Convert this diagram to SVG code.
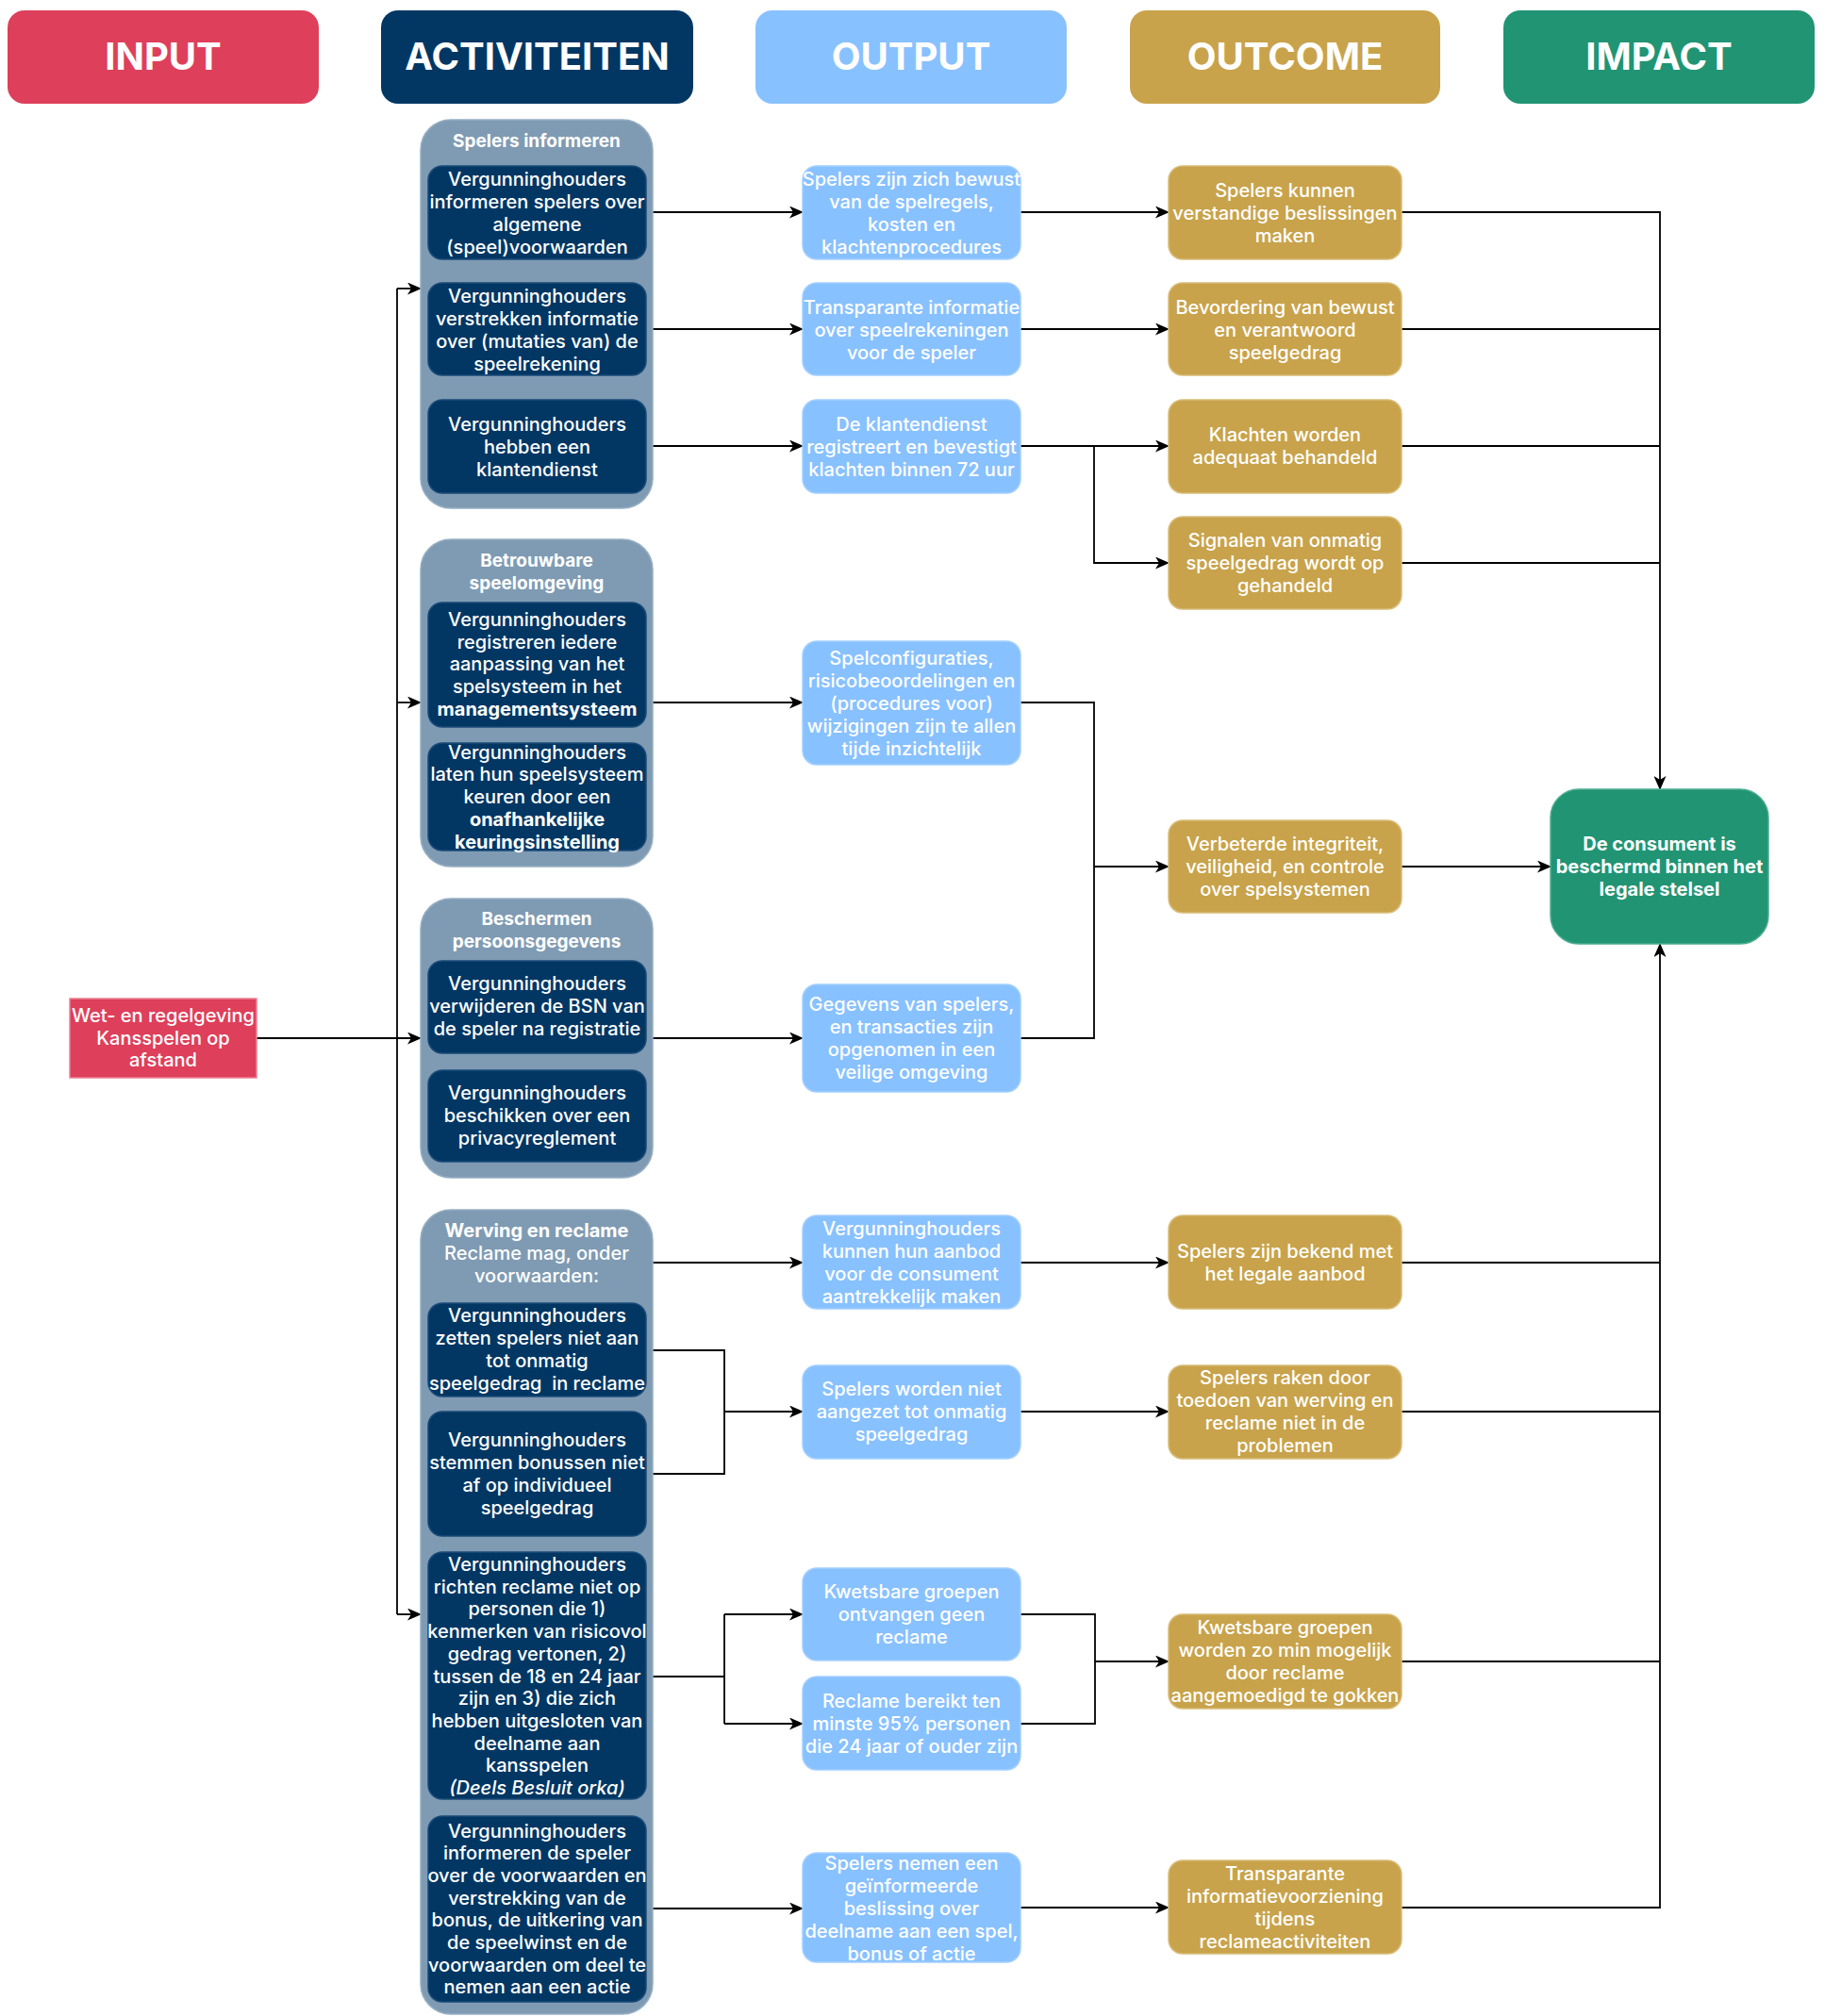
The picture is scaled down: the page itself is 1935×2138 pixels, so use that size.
<svg xmlns="http://www.w3.org/2000/svg" width="1935" height="2138" viewBox="0 0 1935 2138">
<style>
.bg{fill:#ffffff}
.hdr{font-family:Inter,"Liberation Sans",Arial,sans-serif;font-size:40px;font-weight:700;fill:#ffffff;text-anchor:middle}
.t{font-family:Inter,"Liberation Sans",Arial,sans-serif;font-size:20px;font-weight:500;fill:#ffffff;text-anchor:middle}
.gt{font-family:Inter,"Liberation Sans",Arial,sans-serif;font-size:19px;font-weight:700;fill:#ffffff;text-anchor:middle}
.b{font-weight:700}
.i{font-style:italic}
.red{fill:#DE3F5B}
.navy{fill:#023764;stroke:#1B4B78;stroke-width:1.5}
.blue{fill:#88C1FF;stroke:#A3CFFF;stroke-width:1.5}
.gold{fill:#C8A34B;stroke:#D8BC78;stroke-width:1.5}
.green{fill:#219474;stroke:#4DAE91;stroke-width:1.5}
.grp{fill:#7F9BB3;stroke:#95AEC3;stroke-width:1.5}
.c{fill:none;stroke:#000000;stroke-width:1.8}
.a{marker-end:url(#arr)}
</style>
<defs>
<marker id="arr" markerUnits="userSpaceOnUse" markerWidth="15" markerHeight="13" refX="14" refY="6.5" orient="auto">
<path d="M0,0 L15,6.5 L0,13 L4,6.5 Z" fill="#000000"/>
</marker>
</defs>
<rect class="bg" x="0" y="0" width="1935" height="2138"/>

<g id="headers">
<g id="hdr-input"><rect class="red" x="8" y="11" width="330" height="99" rx="18"/><text class="hdr" x="173" y="74">INPUT</text></g>
<g id="hdr-activiteiten"><rect fill="#023764" x="404" y="11" width="331" height="99" rx="18"/><text class="hdr" x="569.5" y="74">ACTIVITEITEN</text></g>
<g id="hdr-output"><rect fill="#88C1FF" x="801" y="11" width="330" height="99" rx="18"/><text class="hdr" x="966" y="74">OUTPUT</text></g>
<g id="hdr-outcome"><rect fill="#C8A34B" x="1198" y="11" width="329" height="99" rx="18"/><text class="hdr" x="1362.5" y="74">OUTCOME</text></g>
<g id="hdr-impact"><rect fill="#219474" x="1594" y="11" width="330" height="99" rx="18"/><text class="hdr" x="1759" y="74">IMPACT</text></g>
</g>

<g id="connectors">
<path class="c" d="M421,306 V1712"/>
<path class="c a" d="M421,306 H446"/>
<path class="c a" d="M421,745 H446"/>
<path class="c a" d="M421,1712 H446"/>
<path class="c a" d="M272,1101 H446"/>

<path class="c a" d="M685,225 H851"/>
<path class="c a" d="M685,349 H851"/>
<path class="c a" d="M685,473 H851"/>
<path class="c a" d="M692,745 H851"/>
<path class="c a" d="M692,1101 H851"/>
<path class="c a" d="M692,1339 H851"/>
<path class="c" d="M685,1432 H768 V1563 H685"/>
<path class="c a" d="M768,1497 H851"/>
<path class="c" d="M685,1778 H768"/>
<path class="c" d="M768,1712 V1828"/>
<path class="c a" d="M768,1712 H851"/>
<path class="c a" d="M768,1828 H851"/>
<path class="c a" d="M685,2024 H851"/>

<path class="c a" d="M1082,225 H1239"/>
<path class="c a" d="M1082,349 H1239"/>
<path class="c a" d="M1082,473 H1239"/>
<path class="c a" d="M1160,473 V597 H1239"/>
<path class="c" d="M1082,745 H1160 V1101 H1082"/>
<path class="c a" d="M1160,919 H1239"/>
<path class="c a" d="M1082,1339 H1239"/>
<path class="c a" d="M1082,1497 H1239"/>
<path class="c" d="M1082,1712 H1161 V1828 H1082"/>
<path class="c a" d="M1161,1762 H1239"/>
<path class="c a" d="M1082,2023 H1239"/>

<path class="c a" d="M1486,225 H1760 V837"/>
<path class="c" d="M1486,349 H1760"/>
<path class="c" d="M1486,473 H1760"/>
<path class="c" d="M1486,597 H1760"/>
<path class="c a" d="M1486,919 H1644"/>
<path class="c" d="M1486,1339 H1760"/>
<path class="c" d="M1486,1497 H1760"/>
<path class="c" d="M1486,1762 H1760"/>
<path class="c a" d="M1486,2023 H1760 V1001"/>
</g>

<g id="input-wet">
<rect class="red" x="74" y="1059" width="198" height="84" stroke="#EC8395" stroke-width="1.5"/>
<text class="t"><tspan x="173" y="1084">Wet- en regelgeving</tspan><tspan x="173" y="1108">Kansspelen op</tspan><tspan x="173" y="1131">afstand</tspan></text>
</g>

<g id="grp-spelers-informeren">
<rect class="grp" x="446" y="127" width="246" height="412" rx="32"/>
<text class="gt" x="569" y="156">Spelers informeren</text>
</g>
<g id="act-1">
<rect class="navy" x="454" y="176" width="231" height="99" rx="15"/>
<text class="t"><tspan x="569.5" y="197">Vergunninghouders</tspan><tspan x="569.5" y="221">informeren spelers over</tspan><tspan x="569.5" y="245">algemene</tspan><tspan x="569.5" y="269">(speel)voorwaarden</tspan></text>
</g>
<g id="act-2">
<rect class="navy" x="454" y="300" width="231" height="98" rx="15"/>
<text class="t"><tspan x="569.5" y="321">Vergunninghouders</tspan><tspan x="569.5" y="345">verstrekken informatie</tspan><tspan x="569.5" y="369">over (mutaties van) de</tspan><tspan x="569.5" y="393">speelrekening</tspan></text>
</g>
<g id="act-3">
<rect class="navy" x="454" y="424" width="231" height="99" rx="15"/>
<text class="t"><tspan x="569.5" y="457">Vergunninghouders</tspan><tspan x="569.5" y="481">hebben een</tspan><tspan x="569.5" y="505">klantendienst</tspan></text>
</g>

<g id="grp-betrouwbare">
<rect class="grp" x="446" y="572" width="246" height="347" rx="32"/>
<text class="gt"><tspan x="569" y="601">Betrouwbare</tspan><tspan x="569" y="625">speelomgeving</tspan></text>
</g>
<g id="act-4">
<rect class="navy" x="454" y="639" width="231" height="132" rx="15"/>
<text class="t"><tspan x="569.5" y="664">Vergunninghouders</tspan><tspan x="569.5" y="688">registreren iedere</tspan><tspan x="569.5" y="711">aanpassing van het</tspan><tspan x="569.5" y="735">spelsysteem in het</tspan><tspan class="b" x="569.5" y="759">managementsysteem</tspan></text>
</g>
<g id="act-5">
<rect class="navy" x="454" y="788" width="231" height="114" rx="15"/>
<text class="t"><tspan x="569.5" y="805">Vergunninghouders</tspan><tspan x="569.5" y="828">laten hun speelsysteem</tspan><tspan x="569.5" y="852">keuren door een</tspan><tspan class="b" x="569.5" y="876">onafhankelijke</tspan><tspan class="b" x="569.5" y="900">keuringsinstelling</tspan></text>
</g>

<g id="grp-beschermen">
<rect class="grp" x="446" y="953" width="246" height="296" rx="32"/>
<text class="gt"><tspan x="569" y="981">Beschermen</tspan><tspan x="569" y="1005">persoonsgegevens</tspan></text>
</g>
<g id="act-6">
<rect class="navy" x="454" y="1019" width="231" height="98" rx="15"/>
<text class="t"><tspan x="569.5" y="1050">Vergunninghouders</tspan><tspan x="569.5" y="1074">verwijderen de BSN van</tspan><tspan x="569.5" y="1098">de speler na registratie</tspan></text>
</g>
<g id="act-7">
<rect class="navy" x="454" y="1135" width="231" height="97" rx="15"/>
<text class="t"><tspan x="569.5" y="1166">Vergunninghouders</tspan><tspan x="569.5" y="1190">beschikken over een</tspan><tspan x="569.5" y="1214">privacyreglement</tspan></text>
</g>

<g id="grp-werving">
<rect class="grp" x="446" y="1283" width="246" height="853" rx="32"/>
<text class="t"><tspan class="b" x="569" y="1312">Werving en reclame</tspan><tspan x="569" y="1336">Reclame mag, onder</tspan><tspan x="569" y="1360">voorwaarden:</tspan></text>
</g>
<g id="act-8">
<rect class="navy" x="454" y="1382" width="231" height="99" rx="15"/>
<text class="t"><tspan x="569.5" y="1402">Vergunninghouders</tspan><tspan x="569.5" y="1426">zetten spelers niet aan</tspan><tspan x="569.5" y="1450">tot onmatig</tspan><tspan x="569.5" y="1474">speelgedrag&#160; in reclame</tspan></text>
</g>
<g id="act-9">
<rect class="navy" x="454" y="1497" width="231" height="132" rx="15"/>
<text class="t"><tspan x="569.5" y="1534">Vergunninghouders</tspan><tspan x="569.5" y="1558">stemmen bonussen niet</tspan><tspan x="569.5" y="1582">af op individueel</tspan><tspan x="569.5" y="1606">speelgedrag</tspan></text>
</g>
<g id="act-10">
<rect class="navy" x="454" y="1646" width="231" height="262" rx="15"/>
<text class="t"><tspan x="569.5" y="1666">Vergunninghouders</tspan><tspan x="569.5" y="1689.7">richten reclame niet op</tspan><tspan x="569.5" y="1713.4">personen die 1)</tspan><tspan x="569.5" y="1737.1">kenmerken van risicovol</tspan><tspan x="569.5" y="1760.8">gedrag vertonen, 2)</tspan><tspan x="569.5" y="1784.5">tussen de 18 en 24 jaar</tspan><tspan x="569.5" y="1808.2">zijn en 3) die zich</tspan><tspan x="569.5" y="1831.9">hebben uitgesloten van</tspan><tspan x="569.5" y="1855.6">deelname aan</tspan><tspan x="569.5" y="1879.3">kansspelen</tspan><tspan class="i" x="569.5" y="1903">(Deels Besluit orka)</tspan></text>
</g>
<g id="act-11">
<rect class="navy" x="454" y="1926" width="231" height="197" rx="15"/>
<text class="t"><tspan x="569.5" y="1948.5">Vergunninghouders</tspan><tspan x="569.5" y="1972.2">informeren de speler</tspan><tspan x="569.5" y="1995.9">over de voorwaarden en</tspan><tspan x="569.5" y="2019.6">verstrekking van de</tspan><tspan x="569.5" y="2043.3">bonus, de uitkering van</tspan><tspan x="569.5" y="2067">de speelwinst en de</tspan><tspan x="569.5" y="2090.7">voorwaarden om deel te</tspan><tspan x="569.5" y="2114.4">nemen aan een actie</tspan></text>
</g>

<g id="out-1">
<rect class="blue" x="851" y="176" width="231" height="99" rx="15"/>
<text class="t"><tspan x="966.5" y="197">Spelers zijn zich bewust</tspan><tspan x="966.5" y="221">van de spelregels,</tspan><tspan x="966.5" y="245">kosten en</tspan><tspan x="966.5" y="269">klachtenprocedures</tspan></text>
</g>
<g id="out-2">
<rect class="blue" x="851" y="300" width="231" height="98" rx="15"/>
<text class="t"><tspan x="966.5" y="333">Transparante informatie</tspan><tspan x="966.5" y="357">over speelrekeningen</tspan><tspan x="966.5" y="381">voor de speler</tspan></text>
</g>
<g id="out-3">
<rect class="blue" x="851" y="424" width="231" height="99" rx="15"/>
<text class="t"><tspan x="966.5" y="457">De klantendienst</tspan><tspan x="966.5" y="481">registreert en bevestigt</tspan><tspan x="966.5" y="505">klachten binnen 72 uur</tspan></text>
</g>
<g id="out-4">
<rect class="blue" x="851" y="680" width="231" height="131" rx="15"/>
<text class="t"><tspan x="966.5" y="705">Spelconfiguraties,</tspan><tspan x="966.5" y="729">risicobeoordelingen en</tspan><tspan x="966.5" y="753">(procedures voor)</tspan><tspan x="966.5" y="777">wijzigingen zijn te allen</tspan><tspan x="966.5" y="801">tijde inzichtelijk</tspan></text>
</g>
<g id="out-5">
<rect class="blue" x="851" y="1044" width="231" height="114" rx="15"/>
<text class="t"><tspan x="966.5" y="1072">Gegevens van spelers,</tspan><tspan x="966.5" y="1096">en transacties zijn</tspan><tspan x="966.5" y="1120">opgenomen in een</tspan><tspan x="966.5" y="1144">veilige omgeving</tspan></text>
</g>
<g id="out-6">
<rect class="blue" x="851" y="1289" width="231" height="99" rx="15"/>
<text class="t"><tspan x="966.5" y="1310">Vergunninghouders</tspan><tspan x="966.5" y="1334">kunnen hun aanbod</tspan><tspan x="966.5" y="1358">voor de consument</tspan><tspan x="966.5" y="1382">aantrekkelijk maken</tspan></text>
</g>
<g id="out-7">
<rect class="blue" x="851" y="1448" width="231" height="99" rx="15"/>
<text class="t"><tspan x="966.5" y="1480">Spelers worden niet</tspan><tspan x="966.5" y="1504">aangezet tot onmatig</tspan><tspan x="966.5" y="1528">speelgedrag</tspan></text>
</g>
<g id="out-8">
<rect class="blue" x="851" y="1663" width="231" height="98" rx="15"/>
<text class="t"><tspan x="966.5" y="1695">Kwetsbare groepen</tspan><tspan x="966.5" y="1719">ontvangen geen</tspan><tspan x="966.5" y="1743">reclame</tspan></text>
</g>
<g id="out-9">
<rect class="blue" x="851" y="1778" width="231" height="99" rx="15"/>
<text class="t"><tspan x="966.5" y="1811">Reclame bereikt ten</tspan><tspan x="966.5" y="1835">minste 95% personen</tspan><tspan x="966.5" y="1859">die 24 jaar of ouder zijn</tspan></text>
</g>
<g id="out-10">
<rect class="blue" x="851" y="1965" width="231" height="116" rx="15"/>
<text class="t"><tspan x="966.5" y="1983">Spelers nemen een</tspan><tspan x="966.5" y="2007">geïnformeerde</tspan><tspan x="966.5" y="2031">beslissing over</tspan><tspan x="966.5" y="2055">deelname aan een spel,</tspan><tspan x="966.5" y="2079">bonus of actie</tspan></text>
</g>

<g id="oc-1">
<rect class="gold" x="1239" y="176" width="247" height="99" rx="15"/>
<text class="t"><tspan x="1362.5" y="209">Spelers kunnen</tspan><tspan x="1362.5" y="233">verstandige beslissingen</tspan><tspan x="1362.5" y="257">maken</tspan></text>
</g>
<g id="oc-2">
<rect class="gold" x="1239" y="300" width="247" height="98" rx="15"/>
<text class="t"><tspan x="1362.5" y="333">Bevordering van bewust</tspan><tspan x="1362.5" y="357">en verantwoord</tspan><tspan x="1362.5" y="381">speelgedrag</tspan></text>
</g>
<g id="oc-3">
<rect class="gold" x="1239" y="424" width="247" height="99" rx="15"/>
<text class="t"><tspan x="1362.5" y="468">Klachten worden</tspan><tspan x="1362.5" y="492">adequaat behandeld</tspan></text>
</g>
<g id="oc-4">
<rect class="gold" x="1239" y="548" width="247" height="98" rx="15"/>
<text class="t"><tspan x="1362.5" y="580">Signalen van onmatig</tspan><tspan x="1362.5" y="604">speelgedrag wordt op</tspan><tspan x="1362.5" y="628">gehandeld</tspan></text>
</g>
<g id="oc-5">
<rect class="gold" x="1239" y="870" width="247" height="98" rx="15"/>
<text class="t"><tspan x="1362.5" y="902">Verbeterde integriteit,</tspan><tspan x="1362.5" y="926">veiligheid, en controle</tspan><tspan x="1362.5" y="950">over spelsystemen</tspan></text>
</g>
<g id="oc-6">
<rect class="gold" x="1239" y="1289" width="247" height="99" rx="15"/>
<text class="t"><tspan x="1362.5" y="1334">Spelers zijn bekend met</tspan><tspan x="1362.5" y="1358">het legale aanbod</tspan></text>
</g>
<g id="oc-7">
<rect class="gold" x="1239" y="1448" width="247" height="99" rx="15"/>
<text class="t"><tspan x="1362.5" y="1468">Spelers raken door</tspan><tspan x="1362.5" y="1492">toedoen van werving en</tspan><tspan x="1362.5" y="1516">reclame niet in de</tspan><tspan x="1362.5" y="1540">problemen</tspan></text>
</g>
<g id="oc-8">
<rect class="gold" x="1239" y="1712" width="247" height="100" rx="15"/>
<text class="t"><tspan x="1362.5" y="1733">Kwetsbare groepen</tspan><tspan x="1362.5" y="1757">worden zo min mogelijk</tspan><tspan x="1362.5" y="1781">door reclame</tspan><tspan x="1362.5" y="1805">aangemoedigd te gokken</tspan></text>
</g>
<g id="oc-9">
<rect class="gold" x="1239" y="1973" width="247" height="99" rx="15"/>
<text class="t"><tspan x="1362.5" y="1994">Transparante</tspan><tspan x="1362.5" y="2018">informatievoorziening</tspan><tspan x="1362.5" y="2042">tijdens</tspan><tspan x="1362.5" y="2066">reclameactiviteiten</tspan></text>
</g>

<g id="impact-1">
<rect class="green" x="1644" y="837" width="231" height="164" rx="30"/>
<text class="t b"><tspan x="1759.5" y="902">De consument is</tspan><tspan x="1759.5" y="926">beschermd binnen het</tspan><tspan x="1759.5" y="950">legale stelsel</tspan></text>
</g>
</svg>
